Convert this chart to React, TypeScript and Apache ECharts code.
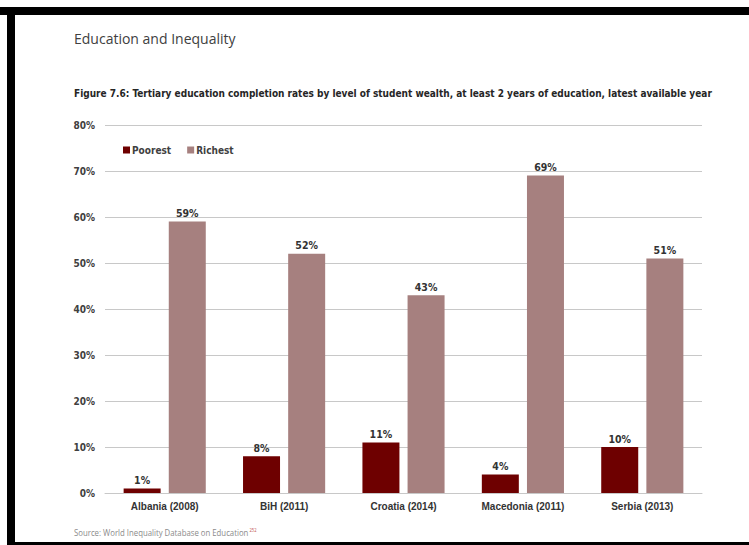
import React, { useEffect, useRef } from "react";
import * as echarts from "echarts";

const categories = ["Albania (2008)", "BiH (2011)", "Croatia (2014)", "Macedonia (2011)", "Serbia (2013)"];
const poorest = [1, 8, 11, 4, 10];
const richest = [59, 52, 43, 69, 51];
const seriesNames = ["Poorest", "Richest"];

const COND = "'DejaVu Sans Condensed', 'Liberation Sans', sans-serif";
const ARIAL = "'Liberation Sans', Arial, sans-serif";
const SANS = "'Open Sans', 'Noto Sans', sans-serif";

export default function App() {
  const ref = useRef<HTMLDivElement>(null);
  useEffect(() => {
    document.body.style.margin = "0";
    const chart = echarts.init(ref.current!, null, { renderer: "svg" });
    const labelStyle = {
      show: true,
      position: "top" as const,
      distance: 3,
      formatter: "{c}%",
      color: "#333333",
      fontFamily: COND,
      fontWeight: "bold" as const,
      fontSize: 10.5,
    };
    chart.setOption({
      animation: false,
      backgroundColor: "#ffffff",
      legend: {
        left: 118,
        top: 140,
        itemWidth: 7,
        itemHeight: 7,
        itemGap: 16,
        icon: "rect",
        data: seriesNames,
        textStyle: { fontFamily: COND, fontWeight: "bold", fontSize: 10, color: "#404040", padding: [0, 0, 0, -3] },
      },
      grid: { left: 105, right: 47, top: 125, bottom: 52 },
      xAxis: {
        type: "category",
        data: categories,
        axisLine: { show: true, lineStyle: { color: "#c8c8c8", width: 1 } },
        axisTick: { show: false },
        axisLabel: { interval: 0, fontFamily: ARIAL, fontWeight: "bold", fontSize: 10, color: "#333333", margin: 8 },
      },
      yAxis: {
        type: "value",
        min: 0,
        max: 80,
        interval: 10,
        axisLine: { show: false },
        axisTick: { show: false },
        axisLabel: { formatter: "{value}%", fontFamily: COND, fontWeight: "bold", fontSize: 10, color: "#404040", margin: 10 },
        splitLine: { lineStyle: { color: "#c8c8c8", width: 1 } },
      },
      series: [
        {
          name: seriesNames[0],
          type: "bar",
          data: poorest,
          barWidth: 37,
          barGap: "22%",
          itemStyle: { color: "#6e0000" },
          label: labelStyle,
        },
        {
          name: seriesNames[1],
          type: "bar",
          data: richest,
          barWidth: 37,
          itemStyle: { color: "#a6807f" },
          label: labelStyle,
        },
      ],
      graphic: [
        {
          type: "text",
          x: 74,
          y: 38,
          style: {
            text: "Education and Inequality",
            fontFamily: SANS,
            fontSize: 14,
            fill: "#404040",
            verticalAlign: "middle",
          },
        },
        {
          type: "text",
          x: 74,
          y: 93,
          scaleX: 0.91,
          style: {
            text: "Figure 7.6: Tertiary education completion rates by level of student wealth, at least 2 years of education, latest available year",
            fontFamily: COND,
            fontWeight: "bold",
            fontSize: 11,
            fill: "#262626",
            verticalAlign: "middle",
          },
        },
        {
          type: "text",
          x: 74,
          y: 533,
          scaleX: 0.82,
          style: {
            text: "Source: World Inequality Database on Education{sup|252}",
            fontFamily: SANS,
            fontSize: 9.5,
            fill: "#8a8a8a",
            verticalAlign: "middle",
            rich: { sup: { fontFamily: SANS, fontSize: 5, fill: "#c0504d", padding: [0, 0, 6, 1] } },
          },
        },
        { type: "rect", shape: { x: 0, y: 7, width: 749, height: 8 }, style: { fill: "#000000" } },
        { type: "rect", shape: { x: 7, y: 7, width: 8, height: 538 }, style: { fill: "#000000" } },
        { type: "rect", shape: { x: 7, y: 542, width: 742, height: 3 }, style: { fill: "#000000" } },
      ],
    });
    return () => chart.dispose();
  }, []);
  return <div ref={ref} style={{ width: 749, height: 545 }} />;
}
